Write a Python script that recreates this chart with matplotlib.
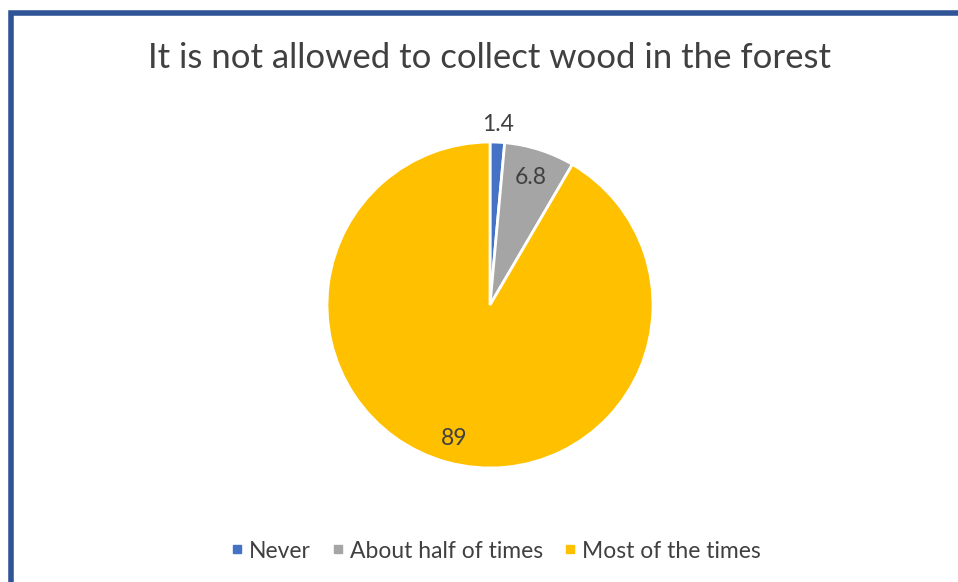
import numpy as np
import matplotlib.pyplot as plt
from matplotlib.patches import Rectangle
from matplotlib.lines import Line2D

# Datos del gráfico
categorias = ["Never", "About half of times", "Most of the times"]
valores = [1.4, 6.8, 89]
etiquetas = ["1.4", "6.8", "89"]
colores = ["#4472C4", "#A5A5A5", "#FFC000"]
titulo = "It is not allowed to collect wood in the forest"

plt.rcParams['font.family'] = ['Lato', 'DejaVu Sans']
color_texto = "#404040"

fig = plt.figure(figsize=(9.58, 5.82), dpi=100)

# Marco azul del gráfico
marco = Rectangle((10.5 / 958, -0.05), 1.1, 1 - 13 / 582 + 0.05,
                  transform=fig.transFigure, fill=False,
                  edgecolor="#2F5597", linewidth=4, clip_on=False)
fig.patches.append(marco)

# Eje cuadrado centrado en el pastel
radio_px = 163
cx, cy = 490, 305
ax = fig.add_axes([(cx - radio_px) / 958, (582 - cy - radio_px) / 582,
                   2 * radio_px / 958, 2 * radio_px / 582])
wedges, _ = ax.pie(valores, colors=colores, startangle=90, counterclock=False,
                   wedgeprops=dict(edgecolor="white", linewidth=2))
ax.set_xlim(-1, 1)
ax.set_ylim(-1, 1)

# Etiquetas de datos en el ángulo medio de cada porción
fracciones = np.array(valores) / sum(valores)
inicio = np.concatenate([[0], np.cumsum(fracciones)[:-1]])
medio = (inicio + fracciones / 2) * 2 * np.pi
distancias = [1.11, 0.82, 0.85]
for ang, d, txt in zip(medio, distancias, etiquetas):
    ax.text(d * np.sin(ang), d * np.cos(ang), txt, ha="center", va="center",
            fontsize=16.5, color=color_texto)

fig.text(490 / 958, 1 - 58 / 582, titulo, ha="center", va="center",
         fontsize=25, color=color_texto)

# Leyenda inferior
manejadores = [Line2D([], [], marker="s", linestyle="none", markersize=6,
                      markerfacecolor=c, markeredgecolor=c) for c in colores]
fig.legend(manejadores, categorias, loc="center", bbox_to_anchor=(496 / 958, 1 - 551 / 582),
           ncol=3, frameon=False, fontsize=16.5, labelcolor=color_texto,
           handlelength=0.45, handletextpad=0.3, columnspacing=0.95)

plt.savefig("out.png", dpi=100)
